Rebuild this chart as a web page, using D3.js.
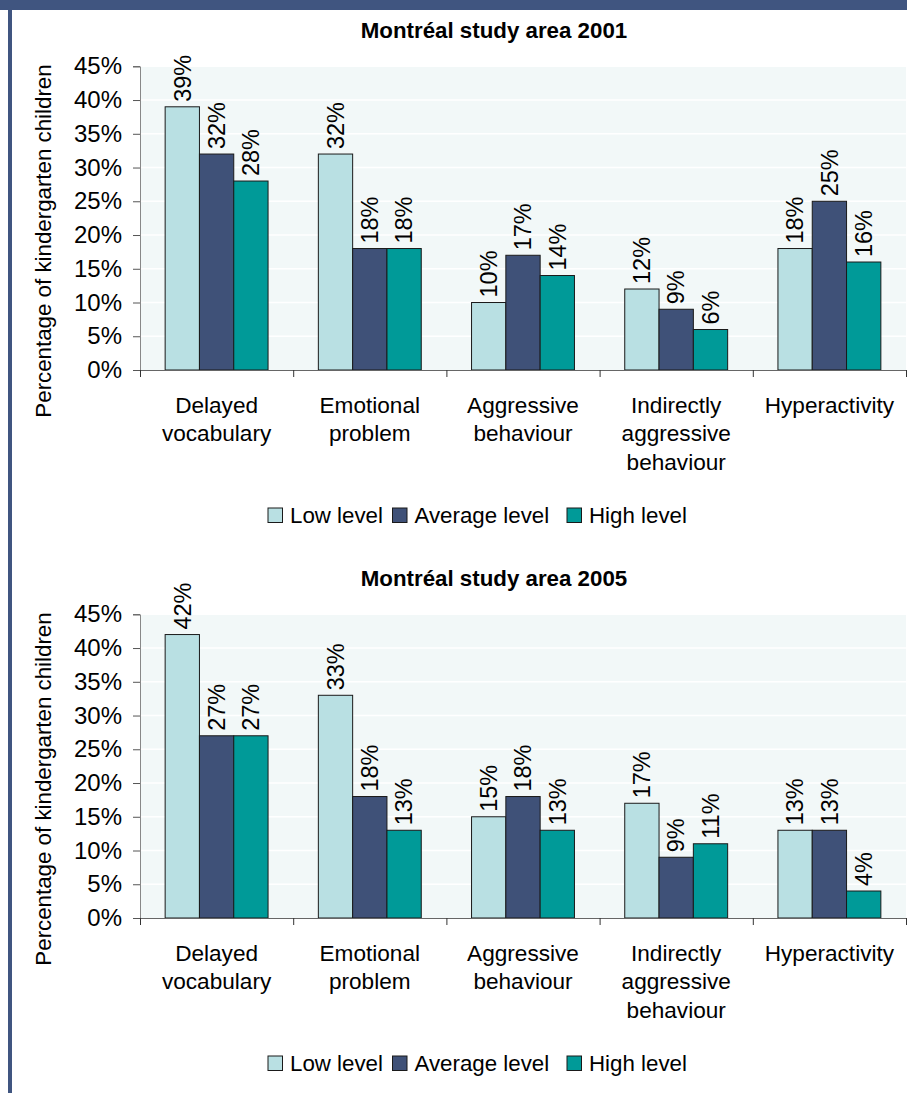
<!DOCTYPE html>
<html>
<head>
<meta charset="utf-8">
<script src="https://cdn.jsdelivr.net/npm/d3@7"></script>
<style>
  html, body { margin: 0; padding: 0; background: #ffffff; }
  svg { display: block; }
  text { font-family: "Liberation Sans", Arial, sans-serif; fill: #000; }
</style>
</head>
<body>
<svg id="chart" width="907" height="1093"></svg>
<script>
// ---- DATA ----
const categories = [
  ["Delayed", "vocabulary"],
  ["Emotional", "problem"],
  ["Aggressive", "behaviour"],
  ["Indirectly", "aggressive", "behaviour"],
  ["Hyperactivity"]
];
const seriesNames = ["Low level", "Average level", "High level"];
const titles = ["Montréal study area 2001", "Montréal study area 2005"];

const low2001 = [39, 32, 10, 12, 18];
const avg2001 = [32, 18, 17, 9, 25];
const high2001 = [28, 18, 14, 6, 16];

const low2005 = [42, 33, 15, 17, 13];
const avg2005 = [27, 18, 18, 9, 13];
const high2005 = [27, 13, 13, 11, 4];

const yTicks = [0, 5, 10, 15, 20, 25, 30, 35, 40, 45];
const yAxisTitle = "Percentage of kindergarten children";

const colors = ["#b9e0e3", "#3f5178", "#009a98"];
const frameColor = "#405580";

// ---- DRAW ----
const svg = d3.select("#chart");

// frame
svg.append("rect").attr("x", 0).attr("y", 0).attr("width", 907).attr("height", 10).attr("fill", frameColor);
svg.append("rect").attr("x", 8).attr("y", 0).attr("width", 4).attr("height", 1093).attr("fill", frameColor);

function drawChart(offsetY, title, seriesData) {
  const g = svg.append("g").attr("transform", `translate(0,${offsetY})`);
  const plotLeft = 140, plotRight = 906, plotTop = 66.3, plotBottom = 370;

  const x0 = d3.scaleBand().domain(d3.range(categories.length)).range([plotLeft, plotRight]).paddingInner(0).paddingOuter(0);
  const x1 = d3.scaleBand().domain(d3.range(seriesNames.length)).range([0, x0.bandwidth()]).paddingInner(0).paddingOuter(0.733);
  const y = d3.scaleLinear().domain([0, 45]).range([plotBottom, plotTop]);

  // title
  g.append("text").attr("x", 494).attr("y", 37.5).attr("text-anchor", "middle")
    .attr("font-size", "22.3px").attr("font-weight", "bold").text(title);

  // plot background
  g.append("rect").attr("x", plotLeft).attr("y", plotTop).attr("width", plotRight - plotLeft)
    .attr("height", plotBottom - plotTop).attr("fill", "#f2f8f8");

  // gridlines
  g.append("g").selectAll("line").data(yTicks.filter(t => t > 0)).join("line")
    .attr("x1", plotLeft).attr("x2", plotRight)
    .attr("y1", d => y(d)).attr("y2", d => y(d))
    .attr("stroke", "#ffffff").attr("stroke-width", 1.5);

  // bars
  const bars = g.append("g");
  seriesData.forEach((vals, si) => {
    bars.selectAll(null).data(vals).join("rect")
      .attr("x", (d, i) => x0(i) + x1(si))
      .attr("y", d => y(d))
      .attr("width", x1.bandwidth())
      .attr("height", d => y(0) - y(d))
      .attr("fill", colors[si])
      .attr("stroke", "#1a1a1a").attr("stroke-width", 1);
  });

  // value labels
  seriesData.forEach((vals, si) => {
    g.append("g").selectAll("text").data(vals).join("text")
      .attr("transform", (d, i) => `translate(${x0(i) + x1(si) + x1.bandwidth() / 2},${y(d) - 5}) rotate(-90)`)
      .attr("text-anchor", "start").attr("dy", "0.35em")
      .attr("font-size", "23.5px").text(d => d + "%");
  });

  // y axis
  const yAxis = d3.axisLeft(y).tickValues(yTicks).tickFormat(d => d + "%").tickSize(7).tickPadding(11);
  const ya = g.append("g").attr("transform", `translate(${plotLeft},0)`).call(yAxis);
  ya.selectAll("text").attr("font-size", "24px").attr("font-family", '"Liberation Sans", Arial, sans-serif').attr("fill", "#000");
  ya.selectAll("line").attr("stroke", "#555");
  ya.select(".domain").attr("stroke", "#888");

  // x axis
  const xAxis = d3.axisBottom(d3.scaleLinear().domain([0, categories.length]).range([plotLeft, plotRight]))
    .tickValues(d3.range(categories.length + 1)).tickFormat("").tickSize(7).tickSizeOuter(0);
  const xa = g.append("g").attr("transform", `translate(0,${plotBottom})`).call(xAxis);
  xa.selectAll("line").attr("stroke", "#333");
  xa.select(".domain").attr("stroke", "#666");

  // category labels
  categories.forEach((lines, i) => {
    const t = g.append("text").attr("text-anchor", "middle").attr("font-size", "22.6px");
    lines.forEach((ln, li) => {
      t.append("tspan").attr("x", x0(i) + x0.bandwidth() / 2).attr("y", plotBottom + 42.7 + li * 28.5).text(ln);
    });
  });

  // y axis title
  g.append("text").attr("transform", `translate(51,241) rotate(-90)`).attr("text-anchor", "middle")
    .attr("font-size", "22.3px").text(yAxisTitle);

  // legend
  const legendX = [268, 392.5, 567];
  const lg = g.append("g");
  seriesNames.forEach((name, si) => {
    lg.append("rect").attr("x", legendX[si]).attr("y", 508).attr("width", 14.5).attr("height", 14.5)
      .attr("fill", colors[si]).attr("stroke", "#1a1a1a").attr("stroke-width", 1);
    lg.append("text").attr("x", legendX[si] + 22).attr("y", 523.3).attr("font-size", "22.3px").text(name);
  });
}

drawChart(0, titles[0], [low2001, avg2001, high2001]);
drawChart(548, titles[1], [low2005, avg2005, high2005]);
</script>
</body>
</html>
